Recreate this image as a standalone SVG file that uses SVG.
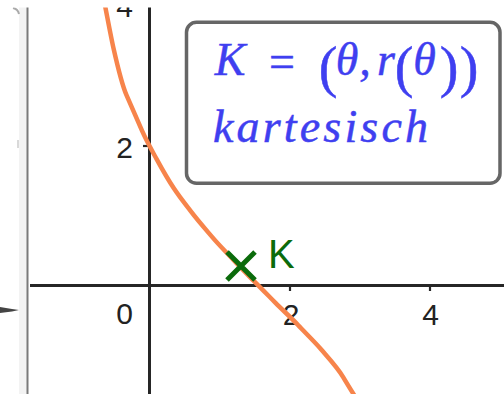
<svg xmlns="http://www.w3.org/2000/svg" width="504" height="394" viewBox="0 0 504 394">
<style>
.ax{stroke:#262626;stroke-width:3;fill:none}
.tick{stroke:#262626;stroke-width:2.2}
.num{font-family:"Liberation Sans",Arial,sans-serif;font-size:30px;fill:#222}
.m{font-family:"Liberation Serif","Times New Roman",serif;font-size:46px;fill:#3F3FF0;stroke:#3F3FF0;stroke-width:0.5}
.mi{font-style:italic}
.p{font-size:56px}
</style>
<rect width="504" height="394" fill="#fff"/>
<g id="ui">
<rect x="19" y="0" width="8" height="394" fill="#f3f3f3"/>
<line x1="27.5" y1="0" x2="27.5" y2="394" stroke="#7a7a7a" stroke-width="2"/>
<path d="M13 8 Q18 9 19 14" stroke="#aaa" stroke-width="2" fill="none"/>
<line x1="18" y1="140" x2="18" y2="148" stroke="#ccc" stroke-width="1.5"/>
<path d="M0 307 L12 309 L19 310 L12 311.5 L0 313 Z" fill="#444"/>
</g>
<g id="axes">
<line class="ax" x1="30" y1="285.5" x2="504" y2="285.5"/>
<line class="ax" x1="149.5" y1="0" x2="149.5" y2="394"/>
<line class="tick" x1="290" y1="285" x2="290" y2="291"/>
<line class="tick" x1="430" y1="285" x2="430" y2="291"/>
<line class="tick" x1="143" y1="146" x2="149" y2="146"/>
<text class="num" x="133" y="17" text-anchor="end">4</text>
<text class="num" x="133" y="158" text-anchor="end">2</text>
<text class="num" x="133" y="324" text-anchor="end">0</text>
<text class="num" x="291" y="325" text-anchor="middle">2</text>
<text class="num" x="430.5" y="325" text-anchor="middle">4</text>
</g>
<g id="curve">
<path d="M103.3 -2.9 C105.2 5.6 110.3 34.0 113.5 48.2 C116.7 62.4 121.8 84.3 126.5 95.1 C131.2 105.9 137.3 120.0 142 130.7 C146.7 141.4 151.6 149.9 156.5 158.9 C161.4 167.9 167.7 179.1 174 188.6 C180.3 198.1 185.3 204.0 191.5 212.2 C197.7 220.4 205.7 229.4 212.5 237.4 C219.3 245.4 226.5 252.4 233.5 260.1 C240.5 267.8 247.5 274.6 254.5 281.6 C261.5 288.6 268.5 295.8 275.5 302.9 C282.5 310.0 291 317.5 298 325 C305 332.5 314.2 341.3 321 349.2 C327.8 357.1 337.5 367.5 343 376.8 C348.5 386.1 360.5 405.3 364 411" stroke="#F7844B" stroke-width="4.5" fill="none" stroke-linecap="round"/>
</g>
<g id="pointK">
<path d="M227 252 L255 280 M227 280 L255 252" stroke="#0B6B0B" stroke-width="5" fill="none"/>
<text x="268" y="268" font-family="Liberation Sans, Arial, sans-serif" font-size="40" fill="#0B6B0B">K</text>
</g>
<rect x="0" y="0" width="504" height="7.5" fill="#fff"/>
<g id="box">
<rect x="186.5" y="22.3" width="313.5" height="161" rx="10" fill="#fff" stroke="#666" stroke-width="3.5"/>
<text class="m mi" x="230" y="75" text-anchor="middle" font-size="50">K</text>
<text class="m" x="282" y="77" text-anchor="middle" font-size="58">=</text>
<text class="m p" x="328" y="86" text-anchor="middle">(</text>
<text class="m mi" x="347" y="75" text-anchor="middle" font-size="48">θ</text>
<text class="m mi" x="365" y="75" text-anchor="middle">,</text>
<text class="m mi" x="386" y="75" text-anchor="middle">r</text>
<text class="m p" x="404" y="86" text-anchor="middle">(</text>
<text class="m mi" x="424.5" y="75" text-anchor="middle" font-size="48">θ</text>
<text class="m p" x="449" y="86" text-anchor="middle">)</text>
<text class="m p" x="469" y="86" text-anchor="middle">)</text>
<text class="m mi" x="213" y="142" textLength="215" lengthAdjust="spacing">kartesisch</text>
</g>
</svg>
